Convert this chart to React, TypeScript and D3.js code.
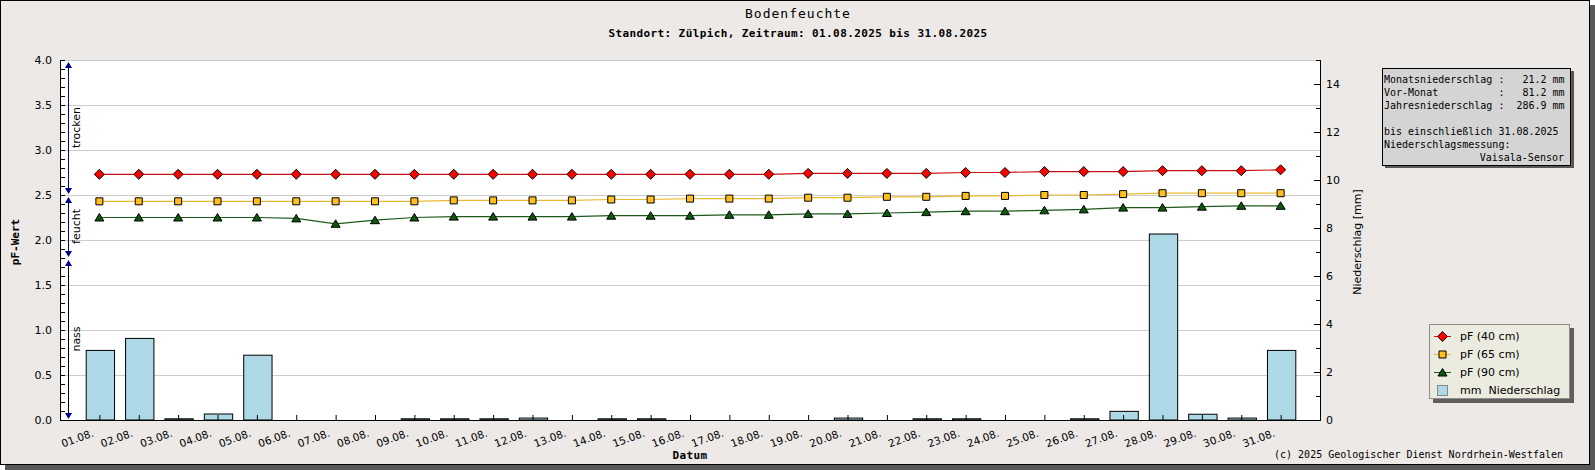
import { useEffect } from 'react';
import * as d3 from 'd3';

const W = 1595;
const H = 470;
const plot = { left: 60, right: 1320, top: 60, bottom: 420 };

const days = [
  '01.08.', '02.08.', '03.08.', '04.08.', '05.08.', '06.08.', '07.08.', '08.08.',
  '09.08.', '10.08.', '11.08.', '12.08.', '13.08.', '14.08.', '15.08.', '16.08.',
  '17.08.', '18.08.', '19.08.', '20.08.', '21.08.', '22.08.', '23.08.', '24.08.',
  '25.08.', '26.08.', '27.08.', '28.08.', '29.08.', '30.08.', '31.08.',
];

// pF values per depth
const pf40 = [
  2.73, 2.73, 2.73, 2.73, 2.73, 2.73, 2.73, 2.73, 2.73, 2.73, 2.73, 2.73, 2.73, 2.73, 2.73, 2.73,
  2.73, 2.73, 2.74, 2.74, 2.74, 2.74, 2.75, 2.75, 2.76, 2.76, 2.76, 2.77, 2.77, 2.77, 2.78,
];
const pf65 = [
  2.43, 2.43, 2.43, 2.43, 2.43, 2.43, 2.43, 2.43, 2.43, 2.44, 2.44, 2.44, 2.44, 2.45, 2.45, 2.46,
  2.46, 2.46, 2.47, 2.47, 2.48, 2.48, 2.49, 2.49, 2.50, 2.50, 2.51, 2.52, 2.52, 2.52, 2.52,
];
const pf90 = [
  2.25, 2.25, 2.25, 2.25, 2.25, 2.24, 2.18, 2.22, 2.25, 2.26, 2.26, 2.26, 2.26, 2.27, 2.27, 2.27,
  2.28, 2.28, 2.29, 2.29, 2.30, 2.31, 2.32, 2.32, 2.33, 2.34, 2.36, 2.36, 2.37, 2.38, 2.38,
];

// daily precipitation in mm
const rain = [
  2.9, 3.4, 0.05, 0.25, 2.7, 0, 0, 0, 0.05, 0.05, 0.05, 0.08, 0, 0.05, 0.05, 0,
  0, 0, 0, 0.08, 0, 0.05, 0.05, 0, 0, 0.05, 0.36, 7.75, 0.24, 0.08, 2.9,
];

const zoneBounds = [4.0, 2.5, 1.8, 0.0];
const zoneNames = ['trocken', 'feucht', 'nass'];
const zoneColors = ['#00008b', '#00008b', '#000000'];

const infoLines = [
  'Monatsniederschlag :   21.2 mm',
  'Vor-Monat          :   81.2 mm',
  'Jahresniederschlag :  286.9 mm',
  '',
  'bis einschließlich 31.08.2025',
  'Niederschlagsmessung:',
];
const infoRight = 'Vaisala-Sensor';

const legendLabels = ['pF (40 cm)', 'pF (65 cm)', 'pF (90 cm)', 'mm  Niederschlag'];

const series = [
  { values: pf40, line: '#cc1010', fill: '#ff0000', marker: 'diamond' },
  { values: pf65, line: '#ebb930', fill: '#ffbf1f', marker: 'square' },
  { values: pf90, line: '#1c5a1c', fill: '#0b5a0b', marker: 'triangle' },
];

const sans = 'DejaVu Sans, sans-serif';
const mono = 'DejaVu Sans Mono, monospace';

const markerPath = (kind: string, x: number, y: number) => {
  if (kind === 'diamond') return `M${x},${y - 5}L${x + 5},${y}L${x},${y + 5}L${x - 5},${y}Z`;
  if (kind === 'square') return `M${x - 3.5},${y - 3.5}h7v7h-7Z`;
  return `M${x},${y - 4}L${x + 4.5},${y + 3.5}L${x - 4.5},${y + 3.5}Z`;
};

const App = () => {
  useEffect(() => {
    document.body.style.margin = '0';
  }, []);

  const x = d3.scalePoint().domain(days).range([plot.left, plot.right]).padding(1);
  const yL = d3.scaleLinear().domain([0, 4]).range([plot.bottom, plot.top]);
  const yR = d3.scaleLinear().domain([0, 15]).range([plot.bottom, plot.top]);

  const barW = x.step() * 0.72;
  const line = d3.line<number>()
    .x((_, i) => x(days[i]) as number)
    .y(d => yL(d));

  const majorL = yL.ticks(8);
  const minorL = yL.ticks(40);
  const ticksR = yR.ticks(15);

  return (
    <svg width={W} height={H} style={{ position: 'absolute', left: 0, top: 0 }}>
      {/* frame with shadow */}
      <rect x={5} y={5} width={1590} height={465} fill="#595959" />
      <rect x={0.5} y={0.5} width={1589} height={464} fill="#ece9e7" stroke="#000" />

      {/* titles */}
      <text x={798} y={18} textAnchor="middle" fontFamily={mono} fontSize={13} letterSpacing={1}>
        Bodenfeuchte
      </text>
      <text x={798} y={37} textAnchor="middle" fontFamily={mono} fontSize={11} fontWeight="bold" letterSpacing={0.4}>
        Standort: Zülpich, Zeitraum: 01.08.2025 bis 31.08.2025
      </text>

      {/* plot area */}
      <rect x={plot.left} y={plot.top} width={plot.right - plot.left} height={plot.bottom - plot.top} fill="#fff" />
      {majorL.filter(t => t > 0).map(t => (
        <line key={t} x1={plot.left} x2={plot.right} y1={yL(t) + 0.5} y2={yL(t) + 0.5} stroke="#cccccc" />
      ))}

      {/* precipitation bars */}
      {rain.map((r, i) => (
        <rect
          key={days[i]}
          x={(x(days[i]) as number) - barW / 2 + 1}
          y={yR(r)}
          width={barW}
          height={plot.bottom - yR(r)}
          fill="#add8e6"
          stroke="#000"
          strokeWidth={1}
        />
      ))}

      {/* pF lines */}
      {series.map(s => (
        <g key={s.marker}>
          <path d={line(s.values) as string} fill="none" stroke={s.line} strokeWidth={1.2} />
          {s.values.map((v, i) => (
            <path key={i} d={markerPath(s.marker, x(days[i]) as number, yL(v))} fill={s.fill} stroke="#000" strokeWidth={1} />
          ))}
        </g>
      ))}

      {/* axes */}
      <line x1={plot.left + 0.5} x2={plot.left + 0.5} y1={plot.top} y2={plot.bottom} stroke="#000" />
      <line x1={plot.right + 0.5} x2={plot.right + 0.5} y1={plot.top} y2={plot.bottom + 1} stroke="#000" />
      <line x1={plot.left} x2={plot.right + 1} y1={plot.bottom + 0.5} y2={plot.bottom + 0.5} stroke="#000" />

      {minorL.map(t => (
        <line key={t} x1={plot.left} x2={plot.left + 5} y1={yL(t) + 0.5} y2={yL(t) + 0.5} stroke="#000" />
      ))}
      {majorL.map(t => (
        <text key={t} x={52} y={yL(t) + 4} textAnchor="end" fontFamily={sans} fontSize={11}>
          {t.toFixed(1)}
        </text>
      ))}

      {ticksR.map(t => (
        <line key={t} x1={plot.right - (t % 2 === 0 ? 6 : 4)} x2={plot.right} y1={yR(t) + 0.5} y2={yR(t) + 0.5} stroke="#000" />
      ))}
      {ticksR.filter(t => t % 2 === 0).map(t => (
        <text key={t} x={1326} y={yR(t) + 4} fontFamily={sans} fontSize={11}>
          {t}
        </text>
      ))}

      {days.map(d => (
        <g key={d}>
          <line x1={(x(d) as number) + 0.5} x2={(x(d) as number) + 0.5} y1={plot.bottom - 5} y2={plot.bottom} stroke="#000" />
          <text
            transform={`translate(${(x(d) as number) - 5},${plot.bottom + 16}) rotate(-20)`}
            textAnchor="end"
            fontFamily={sans}
            fontSize={10.5}
          >
            {d}
          </text>
        </g>
      ))}

      {/* zone arrows */}
      {zoneNames.map((name, i) => {
        const ax = 68.5;
        const top = yL(zoneBounds[i]) + 2;
        const bot = yL(zoneBounds[i + 1]) - 1;
        const mid = (yL(zoneBounds[i]) + yL(zoneBounds[i + 1])) / 2;
        return (
          <g key={name}>
            <line x1={ax} x2={ax} y1={top + 3} y2={bot - 3} stroke={zoneColors[i]} />
            <path d={`M${ax},${top}L${ax + 3.5},${top + 6}L${ax - 3.5},${top + 6}Z`} fill="#00008b" />
            <path d={`M${ax},${bot}L${ax + 3.5},${bot - 6}L${ax - 3.5},${bot - 6}Z`} fill="#00008b" />
            <text transform={`translate(80,${mid}) rotate(-90)`} textAnchor="middle" fontFamily={sans} fontSize={11}>
              {name}
            </text>
          </g>
        );
      })}

      {/* axis titles */}
      <text transform="translate(19,242) rotate(-90)" textAnchor="middle" fontFamily={mono} fontSize={11} fontWeight="bold">
        pF-Wert
      </text>
      <text transform="translate(1361,242) rotate(-90)" textAnchor="middle" fontFamily={sans} fontSize={11}>
        Niederschlag [mm]
      </text>
      <text x={690} y={459} textAnchor="middle" fontFamily={mono} fontSize={11} fontWeight="bold" letterSpacing={0.4}>
        Datum
      </text>
      <text x={1563} y={458} textAnchor="end" fontFamily={mono} fontSize={10}>
        (c) 2025 Geologischer Dienst Nordrhein-Westfalen
      </text>

      {/* info box */}
      <rect x={1385} y={71} width={189} height={97} fill="#595959" />
      <rect x={1382.5} y={68.5} width={188} height={97} fill="#d4d4d4" stroke="#000" />
      {infoLines.map((l, i) => (
        <text key={i} x={1384} y={83 + i * 13} fontFamily={mono} fontSize={10} style={{ whiteSpace: 'pre' }}>
          {l}
        </text>
      ))}
      <text x={1564} y={83 + 6 * 13} textAnchor="end" fontFamily={mono} fontSize={10}>
        {infoRight}
      </text>

      {/* legend */}
      <rect x={1433} y={328} width={141} height={75} fill="#5f5f5f" />
      <rect x={1429.5} y={324.5} width={140} height={74} fill="#ecebdf" stroke="#8c8c8c" />
      {legendLabels.map((l, i) => {
        const cy = 336 + i * 18;
        const s = series[i];
        return (
          <g key={l}>
            {s ? (
              <>
                <line x1={1434} x2={1451} y1={cy + 0.5} y2={cy + 0.5} stroke={s.line} />
                <path d={markerPath(s.marker, 1442.5, cy + 0.5)} fill={s.fill} stroke="#000" />
              </>
            ) : (
              <rect x={1437.5} y={cy - 4.5} width={10} height={10} fill="#add8e6" stroke="#888" />
            )}
            <text x={1460} y={cy + 4} fontFamily={sans} fontSize={11} style={{ whiteSpace: 'pre' }}>
              {l}
            </text>
          </g>
        );
      })}
    </svg>
  );
};

export default App;
